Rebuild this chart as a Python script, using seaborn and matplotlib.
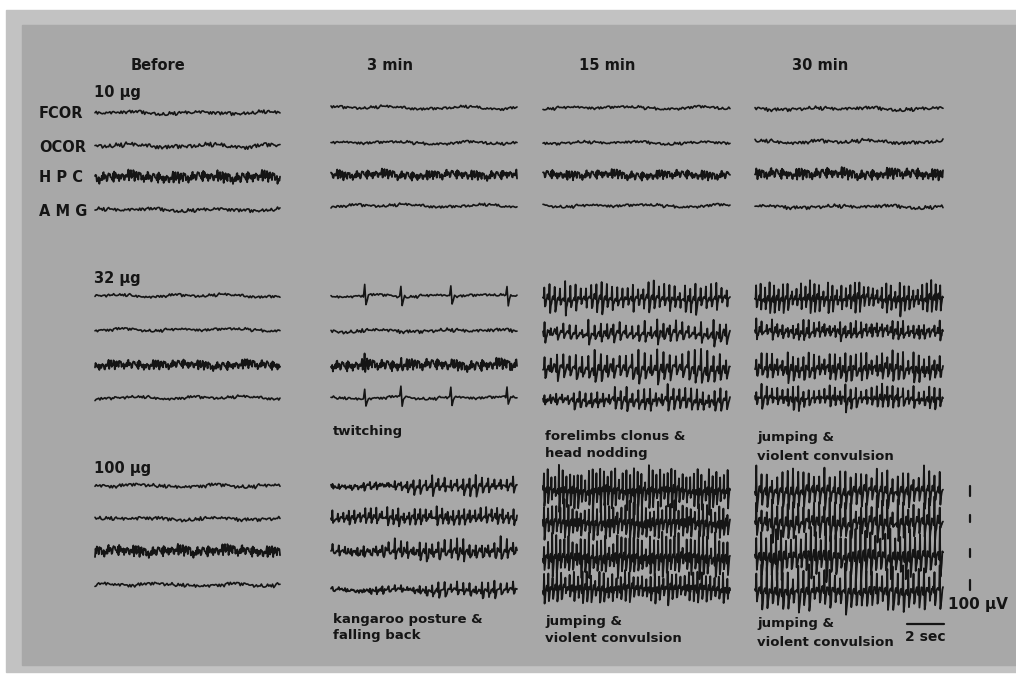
import numpy as np
import pandas as pd
import matplotlib
matplotlib.use("Agg")
import matplotlib.pyplot as plt
import seaborn as sns
from matplotlib.patches import Rectangle

# EEG recordings after intracerebral injection, 3 doses x 4 times x 4 channels

columns = ["Before", "3 min", "15 min", "30 min"]
doses = ["10 \u00b5g", "32 \u00b5g", "100 \u00b5g"]
channels = ["FCOR", "OCOR", "H P C", "A M G"]

# background activity amplitude (per column, per channel)
bg_amp_10 = [[2, 2.5, 6, 2], [1.5, 1.5, 5, 1.5], [1.5, 1.5, 5, 1.5], [2, 2, 6, 2]]
bg_amp_32 = [[1.5, 1.5, 5, 1.5], [1.5, 2, 6, 1.5], [2.5, 2.5, 3, 2.5], [2.5, 2.5, 3, 2.5]]
bg_amp_100 = [[2, 2, 6, 2], [2, 2, 3, 2], [3, 3, 3, 3], [3, 3, 3, 3]]

# number of spikes per trace and spike amplitude
spk_n_10 = [[0, 0, 0, 0], [0, 0, 0, 0], [0, 0, 0, 0], [0, 0, 0, 0]]
spk_a_10 = [[0, 0, 0, 0], [0, 0, 0, 0], [0, 0, 0, 0], [0, 0, 0, 0]]
spk_n_32 = [[0, 0, 0, 0], [0, 0, 0, 0], [36, 30, 30, 32], [42, 36, 36, 36]]
spk_a_32 = [[0, 0, 0, 0], [0, 0, 0, 0], [16, 12, 18, 13], [16, 10, 16, 12]]
spk_n_100 = [[0, 0, 0, 0], [30, 34, 30, 30], [50, 46, 46, 44], [36, 36, 38, 36]]
spk_a_100 = [[0, 0, 0, 0], [10, 10, 12, 9], [22, 20, 22, 16], [22, 22, 28, 24]]

# twitching (32 ug, 3 min): isolated spikes, position along trace and height
twitch_pos = [0.18, 0.38, 0.66, 0.97]
twitch_amp = [11, 0, 6, 10]

# envelopes of the growing discharges
env_100_3 = [[0.3, 0.4, 0.8, 1.0, 1.0, 0.9],
             [0.8, 1.0, 1.0, 1.0, 1.0, 0.9],
             [0.4, 0.6, 0.8, 1.0, 1.0, 1.0],
             [0.2, 0.3, 0.5, 0.8, 1.0, 0.9]]
env_32_15 = [[1.0, 1.0, 0.9, 1.0, 1.0, 1.0],
             [0.8, 1.0, 1.0, 1.0, 1.0, 1.0],
             [0.8, 0.9, 1.0, 1.0, 1.0, 1.0],
             [0.5, 0.7, 0.9, 1.0, 1.0, 1.0]]

# hand-digitised snippets of background EEG and spike waveforms
bg_wave = [0.1, -0.3, 0.5, 0.2, -0.6, -0.1, 0.4, 0.8, 0.1, -0.4, -0.9, -0.2,
           0.3, 0.0, -0.5, 0.6, 0.9, 0.2, -0.3, -0.7, 0.1, 0.5, -0.2, -0.8,
           -0.1, 0.7, 0.3, -0.4, 0.2, 0.6, -0.5, -1.0, -0.3, 0.4, 0.1, -0.2,
           0.8, 0.5, -0.1, -0.6, 0.0, 0.3, -0.4, 0.7, 1.0, 0.2, -0.5, -0.3,
           0.4, -0.1, -0.7, 0.2, 0.6, -0.2, 0.1, -0.8, -0.4, 0.5, 0.3, -0.6,
           0.9, 0.0, -0.3, 0.4, -0.5, 0.2, 0.7, -0.1, -0.9, 0.3, -0.2, 0.6]
drift_wave = [0.0, 0.4, 0.9, 0.6, -0.2, -0.7, -0.4, 0.2, 0.8, 0.5, -0.3,
              -0.6, 0.1, 0.7, 0.3, -0.5]
spike_wave = [0.0, -0.2, 1.0, -0.9, -0.6, -0.3, 0.0, 0.1]
twitch_wave = [0.0, 1.0, -0.8, -0.3, 0.0]

bg_amp = [bg_amp_10, bg_amp_32, bg_amp_100]
spk_n = [spk_n_10, spk_n_32, spk_n_100]
spk_a = [spk_a_10, spk_a_32, spk_a_100]

# layout in pixels
col_x = [(95, 280), (331, 517), (543, 730), (755, 943)]
row_y = [
    [[113, 146, 177, 210], [108, 143, 175, 206], [108, 143, 175, 206], [109, 142, 174, 207]],
    [[296, 330, 365, 398], [296, 331, 365, 398], [298, 333, 368, 400], [298, 331, 368, 398]],
    [[486, 519, 551, 585], [486, 517, 551, 590], [490, 522, 557, 588], [490, 521, 555, 590]],
]
ink = "#151515"


def noise(n, a, seed, step):
    idx = [(i * step + seed * 13) % len(bg_wave) for i in range(n)]
    d = np.repeat(drift_wave, int(np.ceil(n / len(drift_wave))))[:n]
    d = np.roll(d, seed * 5)
    return np.array([bg_wave[k] for k in idx]) * a + d * 1.6


def trace(d, c, ch):
    x0, x1 = col_x[c]
    seed = d * 16 + c * 4 + ch
    a = bg_amp[d][c][ch]
    n_sp = spk_n[d][c][ch]
    step = 7 if ch != 2 else 11
    if n_sp == 0:
        n = 300 if ch == 2 else 150
        y = noise(n, a, seed, step)
        if d == 1 and c == 1 and twitch_amp[ch] > 0:
            for p in twitch_pos:
                k = int(p * (n - len(twitch_wave)))
                y[k:k + len(twitch_wave)] += np.array(twitch_wave) * twitch_amp[ch]
        x = np.linspace(x0, x1, n)
        return x, y
    if d == 2 and c == 1:
        env = env_100_3[ch]
    elif d == 1 and c == 2:
        env = env_32_15[ch]
    else:
        env = [1.0] * 6
    n = n_sp * len(spike_wave)
    env_full = np.repeat(env, int(np.ceil(n / len(env))))[:n]
    # spike-to-spike height changes, taken from the digitised snippet
    var = [0.75 + 0.35 * bg_wave[(j * 5 + seed) % len(bg_wave)] for j in range(n_sp)]
    var = np.repeat(var, len(spike_wave))
    y = np.tile(spike_wave, n_sp) * spk_a[d][c][ch] * env_full * var
    y = y + noise(n, a, seed, 13)
    x = np.linspace(x0, x1, n)
    return x, y


sns.set_style("white")
fig = plt.figure(figsize=(10.16, 6.74), dpi=100)
fig.patch.set_facecolor("white")
ax = fig.add_axes([0, 0, 1, 1])

ax.add_patch(Rectangle((6, 10), 1010, 662, color="#c2c2c2", zorder=0))
ax.add_patch(Rectangle((22, 25), 994, 640, color="#a8a8a8", zorder=0))

for d in range(3):
    for c in range(4):
        for ch in range(4):
            x, y = trace(d, c, ch)
            lw = 1.3 if (ch == 2 or spk_n[d][c][ch] > 0) else 1.2
            sns.lineplot(x=x, y=row_y[d][c][ch] - y, ax=ax, color=ink, lw=lw,
                         sort=False, estimator=None, legend=False)

ax.set_xlim(0, 1016)
ax.set_ylim(674, 0)
ax.axis("off")

font = dict(color=ink, fontweight="bold", family="DejaVu Sans")

title_x = [158, 390, 607, 820]
for c, name in enumerate(columns):
    ax.text(title_x[c], 66, name, ha="center", va="center", fontsize=10.5, **font)

dose_y = [92, 278, 468]
for d, name in enumerate(doses):
    ax.text(94, dose_y[d], name, ha="left", va="center", fontsize=10.5, **font)

for ch, name in enumerate(channels):
    ax.text(39, row_y[0][0][ch] + 1, name, ha="left", va="center", fontsize=10.5, **font)

captions = [
    (333, 431, "twitching"),
    (545, 437, "forelimbs clonus &"),
    (545, 454, "head nodding"),
    (757, 437, "jumping &"),
    (757, 456, "violent convulsion"),
    (333, 619, "kangaroo posture &"),
    (333, 636, "falling back"),
    (545, 621, "jumping &"),
    (545, 639, "violent convulsion"),
    (757, 623, "jumping &"),
    (757, 642, "violent convulsion"),
]
for x, y, s in captions:
    ax.text(x, y, s, ha="left", va="center", fontsize=9.5, **font)

# calibration marks
for yc in [(486, 496), (515, 522), (549, 557), (580, 590)]:
    ax.plot([970, 970], yc, color=ink, lw=1.6)
ax.text(948, 605, "100 \u00b5V", ha="left", va="center", fontsize=11, **font)
ax.plot([907, 944], [624, 624], color=ink, lw=1.6)
ax.text(925, 637, "2 sec", ha="center", va="center", fontsize=10, **font)

fig.savefig("out.png", dpi=100, facecolor=fig.get_facecolor())
